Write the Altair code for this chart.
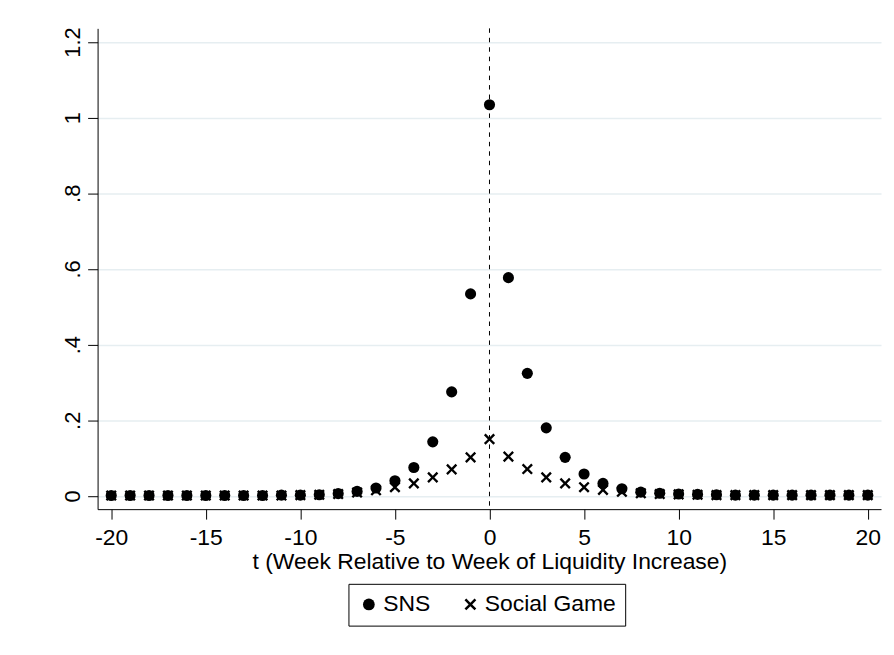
import altair as alt
import pandas as pd

weeks = list(range(-20, 21))
sns = [0.001, 0.001, 0.001, 0.001, 0.001, 0.001, 0.001, 0.001, 0.001,
       0.002, 0.002, 0.003, 0.006, 0.012, 0.021, 0.040, 0.075, 0.143, 0.275, 0.534,
       1.034,
       0.577, 0.324, 0.180, 0.102, 0.058, 0.033, 0.019, 0.010, 0.007, 0.005,
       0.004, 0.003, 0.002, 0.002, 0.002, 0.002, 0.002, 0.002, 0.002, 0.002]
social_game = [0.001, 0.001, 0.001, 0.001, 0.001, 0.001, 0.001, 0.001, 0.001,
               0.001, 0.002, 0.003, 0.005, 0.009, 0.015, 0.023, 0.033, 0.049, 0.070, 0.102,
               0.150,
               0.104, 0.071, 0.049, 0.033, 0.023, 0.016, 0.011, 0.007, 0.005, 0.004,
               0.003, 0.002, 0.002, 0.002, 0.002, 0.002, 0.002, 0.002, 0.002, 0.002]
series_names = ["SNS", "Social Game"]
x_ticks = [-20, -15, -10, -5, 0, 5, 10, 15, 20]
y_ticks = [0, 0.2, 0.4, 0.6, 0.8, 1.0, 1.2]
x_title = "t (Week Relative to Week of Liquidity Increase)"

rows = []
for w, v in zip(weeks, social_game):
    rows.append({"t": w, "value": v, "series": "Social Game"})
for w, v in zip(weeks, sns):
    rows.append({"t": w, "value": v, "series": "SNS"})
df = pd.DataFrame(rows)

d = 0.3
X_PATH = (f"M-1,{-1+d}L{-1+d},-1L0,{-d}L{1-d},-1L1,{-1+d}L{d},0L1,{1-d}L{1-d},1"
          f"L0,{d}L{-1+d},1L-1,{1-d}L{-d},0Z")

FONT = "Liberation Sans"

xscale = alt.Scale(domain=[-20.72, 20.7], nice=False, zero=False)
yscale = alt.Scale(domain=[-0.035, 1.236], nice=False, zero=False)

points = alt.Chart(df).mark_point(filled=True, opacity=1, color="black", size=125).encode(
    x=alt.X("t:Q", scale=xscale,
            axis=alt.Axis(values=x_ticks, title=x_title, grid=False,
                          labelExpr="'' + datum.value",
                          labelFontSize=23, titleFontSize=23, titleFontWeight="normal",
                          labelFont=FONT, titleFont=FONT, labelColor="black", titleColor="black",
                          domainColor="black", tickColor="black", tickSize=10,
                          labelPadding=8, titlePadding=1, labelFlush=False)),
    y=alt.Y("value:Q", scale=yscale,
            axis=alt.Axis(values=y_ticks, title=None, grid=True, gridColor="#e6eef1",
                          gridWidth=1.5,
                          labelExpr="replace(format(datum.value, '~g'), '0.', '.')",
                          labelAngle=270, labelAlign="center", labelBaseline="alphabetic",
                          labelFontSize=22, labelFont=FONT, labelColor="black",
                          domainColor="black", tickColor="black", tickSize=10,
                          labelPadding=8, labelFlush=False)),
    shape=alt.Shape("series:N",
                    scale=alt.Scale(domain=series_names, range=["circle", X_PATH]),
                    legend=alt.Legend(title=None, orient="none", direction="horizontal",
                                      legendX=252, legendY=558,
                                      labelFontSize=23, labelFont=FONT, labelColor="black",
                                      symbolSize=140, symbolFillColor="black",
                                      symbolStrokeWidth=0,
                                      strokeColor="black", fillColor="white",
                                      padding=9, columnPadding=28, labelOffset=3,
                                      cornerRadius=0)),
)

vline = alt.Chart(pd.DataFrame({"t": [0]})).mark_rule(
    color="black", strokeDash=[4.5, 5], strokeWidth=1
).encode(x=alt.X("t:Q", scale=xscale))

chart = alt.layer(vline, points).properties(
    width=787, height=483,
    autosize=alt.AutoSizeParams(type="none"),
    padding={"left": 90, "top": 19, "right": 5, "bottom": 130},
    background="white",
).configure_view(stroke=None)

chart.save("out.html", embed_options={"renderer": "svg", "actions": False})
